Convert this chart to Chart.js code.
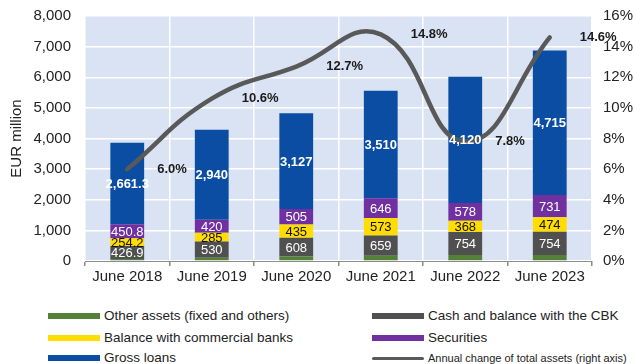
<!DOCTYPE html>
<html>
<head>
<meta charset="utf-8">
<script src="https://cdn.jsdelivr.net/npm/chart.js@4.4.1/dist/chart.umd.min.js"></script>
<style>
  body { margin: 0; background: #fff; font-family: "Liberation Sans", Arial, sans-serif; }
  #wrap { position: relative; width: 635px; height: 364px; overflow: hidden; }
  #box { position: absolute; left: 0; top: 0; width: 635px; height: 292px; }
  #head { position: absolute; left: 0; top: -20px; font: bold 22px "Liberation Sans", Arial, sans-serif; color: #6f9bd1; }
  .leg { position: absolute; font-size: 13.5px; color: #222; white-space: nowrap; line-height: 16px; }
  .leg i { position: absolute; left: -56px; top: 5px; width: 52px; height: 6px; }
  .leg.small { font-size: 11px; }
  .leg.small i { height: 3px; top: 7px; border-radius: 2px; background: #595959; }
</style>
</head>
<body>
<div id="wrap">
  <div id="head">Assets</div>
  <div id="box"><canvas id="assets"></canvas></div>
  <div id="legend"></div>
</div>
<script>
const years = ["June 2018", "June 2019", "June 2020", "June 2021", "June 2022", "June 2023"];
const otherAssets = [65, 110, 150, 175, 195, 200];
const cashCbk = [426.9, 530, 608, 659, 754, 754];
const commercialBanks = [254.2, 285, 435, 573, 368, 474];
const securities = [450.8, 420, 505, 646, 578, 731];
const grossLoans = [2661.3, 2940, 3127, 3510, 4120, 4715];
const annualChange = [6.0, 10.6, 12.7, 14.8, 7.8, 14.6];

const font = "'Liberation Sans', Arial, sans-serif";
const bar = (label, data, color, labelColor, bold) => ({
  label, data, backgroundColor: color, yAxisID: "y", order: 1,
  showValue: labelColor !== null, labelColor, bold
});

// plot background behind the white grid
const plotBg = {
  id: "plotBg",
  beforeDraw(chart) {
    const { ctx, chartArea: a } = chart;
    ctx.save();
    ctx.fillStyle = "#dae3f3";
    ctx.fillRect(a.left, a.top, a.right - a.left, a.bottom - a.top);
    ctx.restore();
  }
};

// value labels inside the bar segments and next to the line points
const valueLabels = {
  id: "valueLabels",
  afterDatasetsDraw(chart) {
    const ctx = chart.ctx;
    ctx.save();
    ctx.textBaseline = "middle";
    chart.data.datasets.forEach((ds, i) => {
      const meta = chart.getDatasetMeta(i);
      if (ds.type === "line") {
        ctx.font = "bold 13px " + font;
        ctx.fillStyle = "#1a1a1a";
        ctx.textAlign = "left";
        meta.data.forEach((pt, j) => {
          ctx.fillText(ds.data[j].toFixed(1) + "%", pt.x + 30, pt.y);
        });
        return;
      }
      if (!ds.showValue) return;
      ctx.font = (ds.bold ? "bold " : "") + "13px " + font;
      ctx.fillStyle = ds.labelColor;
      ctx.textAlign = "center";
      meta.data.forEach((el, j) => {
        const text = ds.data[j].toLocaleString("en-US", { maximumFractionDigits: 1 });
        ctx.fillText(text, el.x, (el.y + el.base) / 2 + 1);
      });
    });
    ctx.restore();
  }
};

new Chart(document.getElementById("assets"), {
  type: "bar",
  data: {
    labels: years,
    datasets: [
      {
        type: "line", label: "Annual change of total assets (right axis)", data: annualChange,
        yAxisID: "y1", order: 0, borderColor: "#595959", borderWidth: 4.5,
        pointRadius: 0, tension: 0.45, fill: false, borderCapStyle: "round"
      },
      bar("Other assets (fixed and others)", otherAssets, "#538135", null, false),
      bar("Cash and balance with the CBK", cashCbk, "#505050", "#ffffff", false),
      bar("Balance with commercial banks", commercialBanks, "#ffdd00", "#111111", false),
      bar("Securities", securities, "#7030a0", "#ffffff", false),
      bar("Gross loans", grossLoans, "#0a4da3", "#ffffff", true)
    ]
  },
  options: {
    responsive: true,
    maintainAspectRatio: false,
    animation: false,
    layout: { padding: { top: 16, bottom: 0, left: 0, right: 0 } },
    datasets: { bar: { categoryPercentage: 1, barPercentage: 0.4 } },
    plugins: { legend: { display: false }, tooltip: { enabled: false } },
    scales: {
      x: {
        stacked: true,
        grid: { color: "#ffffff", lineWidth: 1.5, tickColor: "#8c8c8c", tickLength: 5, offset: true },
        border: { display: true, color: "#8c8c8c", width: 1 },
        ticks: { color: "#222", font: { family: font, size: 15 }, padding: 2, maxRotation: 0 },
        afterFit(s) { s.height = 31; s.paddingLeft = 0; s.paddingRight = 0; }
      },
      y: {
        stacked: true, min: 0, max: 8000,
        grid: { color: "#ffffff", lineWidth: 1.5, drawTicks: false },
        border: { display: false },
        ticks: {
          stepSize: 1000, padding: 14, color: "#222", font: { family: font, size: 15 },
          callback: v => v.toLocaleString("en-US")
        },
        title: { display: true, text: "EUR million", color: "#222", font: { family: font, size: 15 }, padding: { top: 8, bottom: 0 } },
        afterFit(s) { s.width = 85; s.paddingTop = 0; s.paddingBottom = 0; }
      },
      y1: {
        position: "right", min: 0, max: 16,
        grid: { display: false, drawTicks: false },
        border: { display: false },
        ticks: { stepSize: 2, padding: 11, color: "#222", font: { family: font, size: 15 }, callback: v => v + "%" },
        afterFit(s) { s.width = 43; s.paddingTop = 0; s.paddingBottom = 0; }
      }
    }
  },
  plugins: [plotBg, valueLabels]
});

// two-column legend under the chart
const legendItems = [
  { text: "Other assets (fixed and others)", color: "#538135", left: 104, top: 308 },
  { text: "Cash and balance with the CBK", color: "#505050", left: 428, top: 308 },
  { text: "Balance with commercial banks", color: "#ffdd00", left: 104, top: 330 },
  { text: "Securities", color: "#7030a0", left: 428, top: 330 },
  { text: "Gross loans", color: "#0a4da3", left: 104, top: 350 },
  { text: "Annual change of total assets (right axis)", color: null, left: 428, top: 350 }
];
const legend = document.getElementById("legend");
for (const item of legendItems) {
  const div = document.createElement("div");
  div.className = "leg" + (item.color ? "" : " small");
  div.style.left = item.left + "px";
  div.style.top = item.top + "px";
  const sw = document.createElement("i");
  if (item.color) sw.style.background = item.color;
  div.appendChild(sw);
  div.appendChild(document.createTextNode(item.text));
  legend.appendChild(div);
}
</script>
</body>
</html>
